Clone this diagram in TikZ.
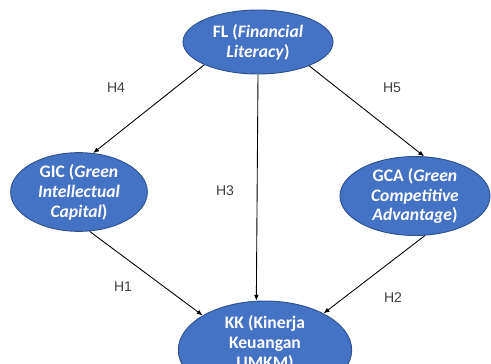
\documentclass[tikz,border=0pt]{standalone}
\usepackage{fontspec}
\setmainfont{Liberation Sans}
\newfontfamily\varfont{Carlito}
\usetikzlibrary{shapes.geometric,arrows.meta}
\definecolor{varblue}{HTML}{4472C4}
\definecolor{varedge}{HTML}{2F528F}
\definecolor{hypgray}{HTML}{404040}

\begin{document}
\begin{tikzpicture}[x=0.03cm, y=-0.03cm, >={Latex[length=5pt,width=4pt]},
  var/.style={ellipse, draw=varedge, line width=0.8pt, fill=varblue, text=white, inner sep=0pt, align=center, font=\varfont\bfseries\fontsize{15}{17}\selectfont},
  hyp/.style={text=hypgray, font=\fontsize{12}{14}\selectfont},
  every edge/.append style={line width=0.75pt}]
  \useasboundingbox (0,0) rectangle (491,364);
  \clip (0,0) rectangle (491,364);

  \node[var, minimum width=4.5cm, minimum height=1.92cm] (fl) at (258,42) {FL (\textit{Financial}\\\textit{Literacy})};
  \node[var, minimum width=4.1cm, minimum height=1.86cm] (gic) at (79,192) {GIC (\textit{Green}\\\textit{Intellectual}\\\textit{Capital})};
  \node[var, minimum width=4.5cm, minimum height=1.75cm] (gca) at (415,196) {GCA (\textit{Green}\\\textit{Competitive}\\\textit{Advantage})};
  \node[var, minimum width=5.2cm, minimum height=2.3cm, text depth=14pt] (kk) at (265,350) {KK (Kinerja\\Keuangan\\UMKM)};

  \node[hyp] (h4) at (116,88) {H4};
  \node[hyp] (h5) at (392,88) {H5};
  \node[hyp] (h3) at (225,191) {H3};
  \node[hyp] (h1) at (123,287) {H1};
  \node[hyp] (h2) at (393,298) {H2};

  \path[->] (fl.203) edge (gic.70);
  \path[->] (fl.335) edge (gca.77);
  \path[->] (fl.south) edge (kk.100);
  \path[->] (gic.285) edge (kk.151);
  \path[->] (gca.284) edge (kk.32);
\end{tikzpicture}
\end{document}
